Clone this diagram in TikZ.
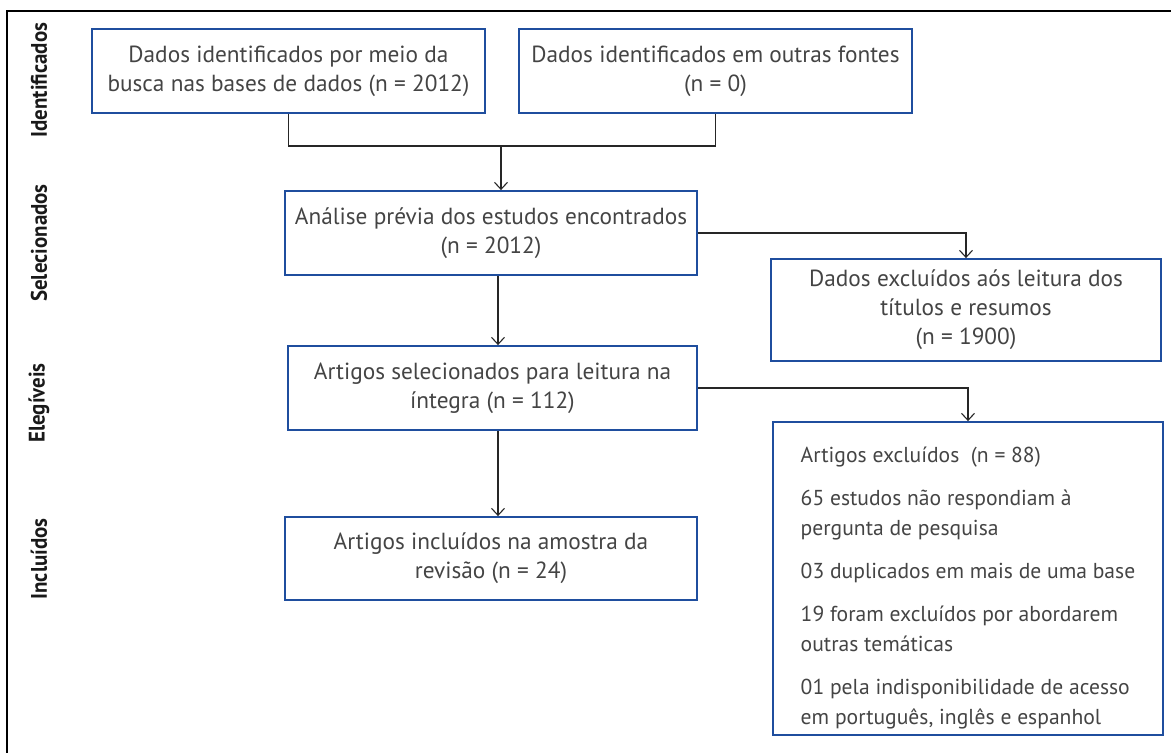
\documentclass[tikz,border=0pt]{standalone}
\usepackage{fontspec}
\setmainfont{PT Sans}
\newfontfamily\sidefont[FakeStretch=0.93]{PT Sans}
\usetikzlibrary{arrows.meta}
\definecolor{boxblue}{HTML}{1F4E9E}
\definecolor{txtgray}{HTML}{444444}
\tikzset{
  box/.style={draw=boxblue, line width=1.8pt, inner sep=0pt, align=center,
    text=txtgray, font=\fontsize{23.3}{29}\selectfont},
  conn/.style={draw=black!85, line width=1.2pt},
  arr/.style={conn, -{Straight Barb[length=7pt,width=13pt,line width=1.1pt]}},
  side/.style={rotate=90, font=\sidefont\bfseries\fontsize{22.5}{24}\selectfont, text=black!90}
}
\begin{document}
\begin{tikzpicture}[x=1pt,y=-1pt]
\useasboundingbox (0,0) rectangle (1171,753);
\draw[line width=1.4pt] (1171,11) -- (7,11) -- (7,753);

\node[side] (s1) at (39,80) {Identificados};
\node[side] (s2) at (39,243) {Selecionados};
\node[side] (s3) at (39,403) {Elegíveis};
\node[side] (s4) at (39,559) {Incluídos};

\node[box, minimum width=393pt, minimum height=84pt] (b1) at (288.5,71)
  {Dados identificados por meio da\\busca nas bases de dados (n = 2012)};
\node[box, minimum width=393pt, minimum height=84pt] (b2) at (715.5,71)
  {Dados identificados em outras fontes\\(n = 0)};
\node[box, minimum width=412pt, minimum height=84pt] (b3) at (491,233)
  {Análise prévia dos estudos encontrados\\(n = 2012)};
\node[box, minimum width=390pt, minimum height=102pt] (b4) at (966,310)
  {Dados excluídos aós leitura dos\\títulos e resumos\\(n = 1900)};
\node[box, minimum width=409pt, minimum height=84pt] (b5) at (492.5,388)
  {Artigos selecionados para leitura na\\íntegra (n = 112)};
\node[box, minimum width=390pt, minimum height=313pt] (b6) at (968,578.5) {};
\node[align=left, inner sep=0pt, text=txtgray,
  font=\fontsize{21.6}{30}\selectfont] (b6t) at (968,588)
  {Artigos excluídos\ \ (n = 88)\\[13pt]
   65 estudos não respondiam à\\pergunta de pesquisa\\[13pt]
   03 duplicados em mais de uma base\\[13pt]
   19 foram excluídos por abordarem\\outras temáticas\\[13pt]
   01 pela indisponibilidade de acesso\\em português, inglês e espanhol};
\node[box, minimum width=412pt, minimum height=83pt] (b7) at (491,558.5)
  {Artigos incluídos na amostra da\\revisão (n = 24)};

\coordinate (j1) at (501,146);
\coordinate (j2) at (498,0);
\draw[conn] (b1.south) |- (j1) -| (b2.south);
\draw[arr] (j1) -- (j1 |- b3.north);
\draw[arr] (b3.east) -| (b4.north);
\draw[arr] (j2 |- b3.south) -- (j2 |- b5.north);
\draw[arr] (b5.east) -| (b6.north);
\draw[arr] (j2 |- b5.south) -- (j2 |- b7.north);
\end{tikzpicture}
\end{document}
